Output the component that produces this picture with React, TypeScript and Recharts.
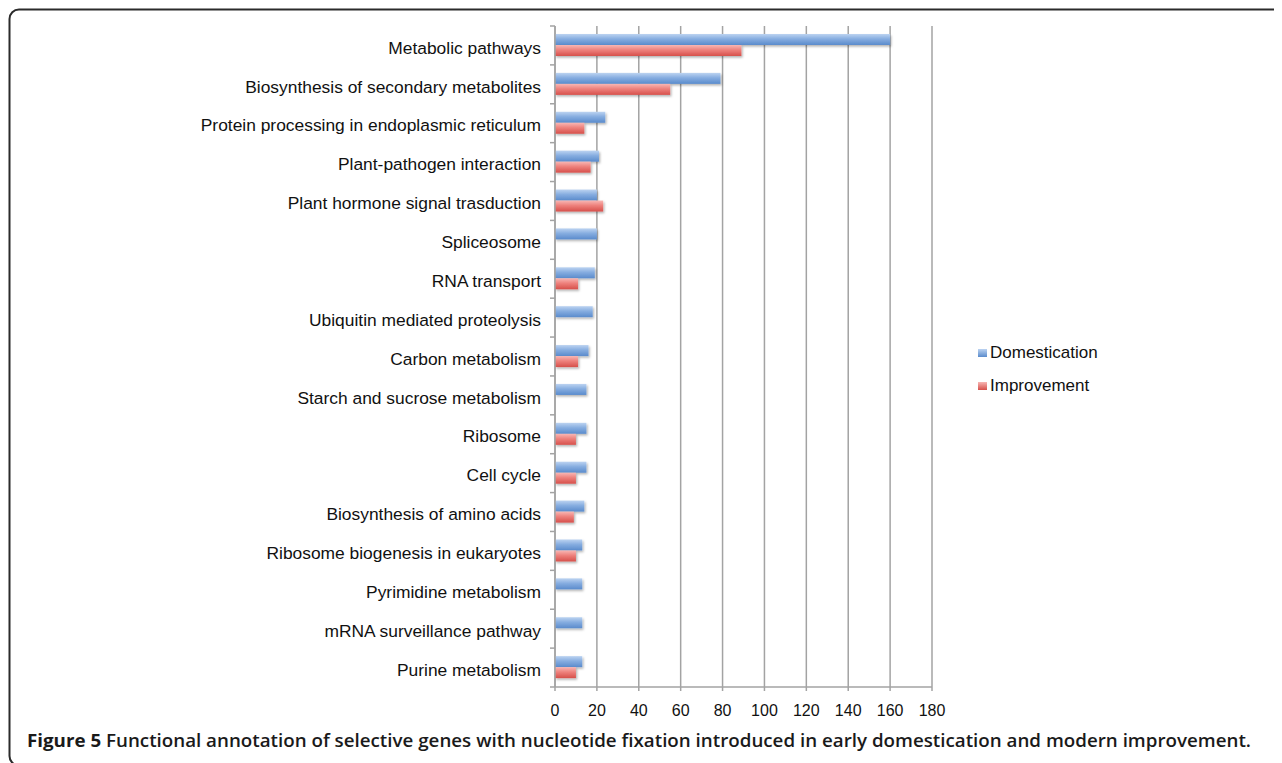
import React from "react";
import { BarChart, Bar, XAxis, YAxis, CartesianGrid, Legend } from "recharts";

// KEGG pathways, top to bottom
const categories = [
  "Metabolic pathways",
  "Biosynthesis of secondary metabolites",
  "Protein processing in endoplasmic reticulum",
  "Plant-pathogen interaction",
  "Plant hormone signal trasduction",
  "Spliceosome",
  "RNA transport",
  "Ubiquitin mediated proteolysis",
  "Carbon metabolism",
  "Starch and sucrose metabolism",
  "Ribosome",
  "Cell cycle",
  "Biosynthesis of amino acids",
  "Ribosome biogenesis in eukaryotes",
  "Pyrimidine metabolism",
  "mRNA surveillance pathway",
  "Purine metabolism",
];

const domestication = [160, 79, 24, 21, 20, 20, 19, 18, 16, 15, 15, 15, 14, 13, 13, 13, 13];
const improvement = [89, 55, 14, 17, 23, 0, 11, 0, 11, 0, 10, 10, 9, 10, 0, 0, 10];

const seriesNames = ["Domestication", "Improvement"];
const xTicks = [0, 20, 40, 60, 80, 100, 120, 140, 160, 180];

const captionLead = "Figure 5";
const captionBody =
  " Functional annotation of selective genes with nucleotide fixation introduced in early domestication and modern improvement.";

const data = categories.map((name, i) => ({
  name,
  domestication: domestication[i],
  improvement: improvement[i],
}));

const W = 1274;
const H = 755;
const MARGIN = { top: 18, right: 350, bottom: 46, left: 0 };
const Y_AXIS_W = 547;
const X_AXIS_H = 30;
const PLOT_H = H - MARGIN.top - MARGIN.bottom - X_AXIS_H;
const BAND = PLOT_H / categories.length;

const FONT = "'Liberation Sans', Arial, Helvetica, sans-serif";
const AXIS_GREY = "#a3a3a3";

const COLORS = {
  blue: { top: "#bcd3f1", mid: "#86ade0", bottom: "#5a8bcc" },
  red: { top: "#f8b7b4", mid: "#ee817c", bottom: "#d6504b" },
};

const CategoryTick = (props: any) => {
  const { y, payload, index, visibleTicksCount } = props;
  const ax = Y_AXIS_W;
  const last = index === (visibleTicksCount ?? categories.length) - 1;
  return (
    <g>
      <line x1={ax - 5} x2={ax} y1={y - BAND / 2} y2={y - BAND / 2} stroke={AXIS_GREY} strokeWidth={1.5} />
      {last && (
        <line x1={ax - 5} x2={ax} y1={y + BAND / 2} y2={y + BAND / 2} stroke={AXIS_GREY} strokeWidth={1.5} />
      )}
      <text
        x={ax - 14}
        y={y}
        dy={8.2}
        textAnchor="end"
        fontFamily={FONT}
        fontSize={17.4}
        fill="#111"
      >
        {payload.value}
      </text>
    </g>
  );
};

const barShape = (gradId: string) => (p: any) => {
  const { x, y, width, height } = p;
  if (!width || width <= 0) return <g />;
  return (
    <rect
      x={x}
      y={y}
      width={width}
      height={height}
      fill={`url(#${gradId})`}
      filter="url(#barShadow)"
    />
  );
};

const LegendBox = () => (
  <div style={{ position: "relative", width: 150, height: 60, fontFamily: FONT, fontSize: 17, color: "#111" }}>
    {seriesNames.map((n, i) => (
      <div
        key={n}
        style={{
          position: "absolute",
          left: 0,
          top: i * 33,
          height: 22,
          display: "flex",
          alignItems: "center",
          whiteSpace: "nowrap",
        }}
      >
        <span
          style={{
            display: "inline-block",
            width: 9,
            height: 8,
            marginRight: 3,
            background:
              i === 0
                ? `linear-gradient(${COLORS.blue.top}, ${COLORS.blue.bottom})`
                : `linear-gradient(${COLORS.red.top}, ${COLORS.red.bottom})`,
          }}
        />
        <span>{n}</span>
      </div>
    ))}
  </div>
);

export default function App() {
  return (
    <div style={{ position: "relative", width: W, height: H }}>
      <style>{"html,body{overflow:hidden}"}</style>
      <BarChart
        width={W}
        height={H}
        data={data}
        layout="vertical"
        margin={MARGIN}
        barSize={11}
        barGap={0}
      >
        <defs>
          <linearGradient id="gradBlue" x1="0" y1="0" x2="0" y2="1">
            <stop offset="0%" stopColor={COLORS.blue.top} />
            <stop offset="45%" stopColor={COLORS.blue.mid} />
            <stop offset="100%" stopColor={COLORS.blue.bottom} />
          </linearGradient>
          <linearGradient id="gradRed" x1="0" y1="0" x2="0" y2="1">
            <stop offset="0%" stopColor={COLORS.red.top} />
            <stop offset="45%" stopColor={COLORS.red.mid} />
            <stop offset="100%" stopColor={COLORS.red.bottom} />
          </linearGradient>
          <filter id="barShadow" x="-10%" y="-30%" width="130%" height="180%">
            <feDropShadow dx="1.2" dy="1.6" stdDeviation="1.2" floodColor="#000" floodOpacity="0.3" />
          </filter>
        </defs>
        <CartesianGrid horizontal={false} stroke={AXIS_GREY} strokeWidth={1.5} />
        <XAxis
          type="number"
          domain={[0, 180]}
          ticks={xTicks}
          height={X_AXIS_H}
          interval={0}
          tickSize={4}
          tickMargin={14}
          axisLine={{ stroke: AXIS_GREY, strokeWidth: 1.5 }}
          tickLine={{ stroke: AXIS_GREY, strokeWidth: 1.5 }}
          tick={{ fontFamily: FONT, fontSize: 16, fill: "#111" }}
        />
        <YAxis
          type="category"
          dataKey="name"
          width={Y_AXIS_W}
          interval={0}
          tickLine={false}
          axisLine={{ stroke: AXIS_GREY, strokeWidth: 1.5 }}
          tick={<CategoryTick />}
        />
        <Legend
          layout="vertical"
          align="center"
          verticalAlign="middle"
          content={<LegendBox />}
          wrapperStyle={{ left: 970, top: 334, width: 150, height: 60 }}
        />
        <Bar
          dataKey="domestication"
          name={seriesNames[0]}
          fill={COLORS.blue.mid}
          shape={barShape("gradBlue")}
          isAnimationActive={false}
        />
        <Bar
          dataKey="improvement"
          name={seriesNames[1]}
          fill={COLORS.red.mid}
          shape={barShape("gradRed")}
          isAnimationActive={false}
        />
      </BarChart>
      <svg
        width={W}
        height={H}
        style={{ position: "absolute", left: 0, top: 0, pointerEvents: "none" }}
      >
        <path
          d="M 1290 1.5 H 11 A 9.5 9.5 0 0 0 1.5 11 V 748 A 9.5 9.5 0 0 0 11 757.5 H 1290"
          fill="none"
          stroke="#2b2b2b"
          strokeWidth={2}
        />
        <text
          x={19}
          y={739}
          fontFamily="'Open Sans', 'Noto Sans', sans-serif"
          fontSize={17.5}
          fill="#1a1a1a"
          textLength={1224}
          lengthAdjust="spacingAndGlyphs"
        >
          <tspan fontWeight={700}>{captionLead}</tspan>
          <tspan fontWeight={600}>{captionBody}</tspan>
        </text>
      </svg>
    </div>
  );
}
